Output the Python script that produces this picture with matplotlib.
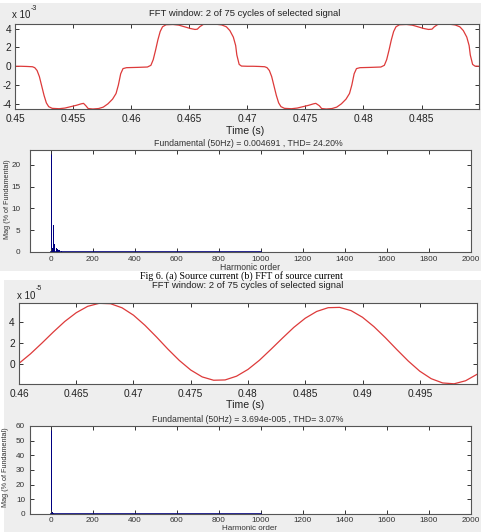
import matplotlib
matplotlib.use("Agg")
import matplotlib.pyplot as plt
from matplotlib.patches import Rectangle

W, H = 487, 532
plt.rcParams["font.family"] = ["Liberation Sans", "DejaVu Sans"]
plt.rcParams["axes.unicode_minus"] = False

# --- (a) corriente de fuente (x 1e-3 A) ---
src_t = [0.4500, 0.4505, 0.4510, 0.4515, 0.4517, 0.4519, 0.4521, 0.4523, 0.4525, 0.4527,
         0.4529, 0.4532, 0.4538, 0.4543, 0.4548, 0.4553, 0.4557, 0.4559, 0.4561, 0.4563,
         0.4567, 0.4572, 0.4576, 0.4580, 0.4584, 0.4587, 0.4589, 0.4591, 0.4593, 0.4596,
         0.4605, 0.4614, 0.4617, 0.4619, 0.4621, 0.4623, 0.4625, 0.4627, 0.4630, 0.4636,
         0.4641, 0.4646, 0.4651, 0.4655, 0.4657, 0.4659, 0.4662, 0.4667, 0.4673, 0.4678,
         0.4682, 0.4685, 0.4688, 0.4690, 0.4691, 0.4693, 0.4695, 0.4700,
         0.4705, 0.4710, 0.4715, 0.4717, 0.4719, 0.4721, 0.4723, 0.4725, 0.4727,
         0.4729, 0.4732, 0.4738, 0.4743, 0.4748, 0.4753, 0.4757, 0.4759, 0.4762, 0.4764,
         0.4768, 0.4773, 0.4777, 0.4781, 0.4785, 0.4788, 0.4790, 0.4792, 0.4794, 0.4797,
         0.4806, 0.4815, 0.4818, 0.4820, 0.4822, 0.4824, 0.4826, 0.4828, 0.4831, 0.4837,
         0.4842, 0.4847, 0.4852, 0.4856, 0.4859, 0.4861, 0.4864, 0.4868, 0.4874, 0.4879,
         0.4883, 0.4886, 0.4889, 0.4891, 0.4892, 0.4894, 0.4896, 0.4900]
src_i = [0.00, 0.00, -0.02, -0.05, -0.15, -0.45, -1.1, -2.1, -3.1, -3.9,
         -4.3, -4.48, -4.52, -4.45, -4.3, -4.15, -4.0, -3.95, -4.2, -4.5,
         -4.55, -4.5, -4.35, -4.0, -3.5, -2.9, -2.0, -0.8, -0.25, -0.15,
         -0.12, -0.08, 0.1, 0.7, 1.7, 2.8, 3.7, 4.2, 4.42, 4.45,
         4.38, 4.2, 4.02, 3.92, 3.95, 4.2, 4.45, 4.5, 4.48, 4.4,
         4.2, 3.8, 3.1, 2.2, 1.2, 0.2, 0.02, 0.0,
         0.0, -0.02, -0.05, -0.15, -0.45, -1.1, -2.1, -3.1, -3.9,
         -4.3, -4.48, -4.52, -4.45, -4.3, -4.15, -4.0, -3.95, -4.2, -4.5,
         -4.55, -4.5, -4.35, -4.0, -3.5, -2.9, -2.0, -0.8, -0.25, -0.15,
         -0.12, -0.08, 0.1, 0.7, 1.7, 2.8, 3.7, 4.2, 4.42, 4.45,
         4.38, 4.2, 4.02, 3.92, 3.95, 4.2, 4.45, 4.5, 4.48, 4.4,
         4.2, 3.8, 3.1, 2.2, 1.2, 0.2, 0.02, 0.0]

# --- (b) espectro de la corriente de fuente ---
src_orders = [1, 5, 7, 11, 13, 17, 19, 23, 25, 29, 31, 35, 37, 41, 43, 47, 49]
src_mag = [100, 21.5, 1.0, 6.2, 3.2, 1.8, 1.5, 1.2, 1.0, 0.8, 0.7, 0.5, 0.45, 0.35, 0.3, 0.25, 0.2]
src_max_order = 1000

# --- corriente compensada (x 1e-5 A) ---
comp_t = [0.460, 0.461, 0.462, 0.463, 0.464, 0.465, 0.466, 0.467, 0.468, 0.469,
          0.470, 0.471, 0.472, 0.473, 0.474, 0.475, 0.476, 0.477, 0.478, 0.479,
          0.480, 0.481, 0.482, 0.483, 0.484, 0.485, 0.486, 0.487, 0.488, 0.489,
          0.490, 0.491, 0.492, 0.493, 0.494, 0.495, 0.496, 0.497, 0.498, 0.499, 0.500]
comp_i = [0.05, 0.96, 1.99, 3.06, 4.07, 4.91, 5.52, 5.81, 5.77, 5.38,
          4.67, 3.70, 2.59, 1.42, 0.33, -0.59, -1.25, -1.57, -1.54, -1.18,
          -0.53, 0.35, 1.39, 2.46, 3.50, 4.38, 5.03, 5.39, 5.42, 5.11,
          4.47, 3.57, 2.51, 1.37, 0.27, -0.70, -1.42, -1.83, -1.91, -1.62, -1.00]

comp_orders = [1, 5, 7, 11, 13]
comp_mag = [100, 2.0, 1.5, 1.0, 0.8]
comp_max_order = 1000

RED = "#dd3a3a"
NAVY = "#000080"
GRAY = "#eeeeee"

fig = plt.figure(figsize=(W / 100, H / 100), dpi=100)
fig.patch.set_facecolor("white")


def px_axes(x0, y0, x1, y1):
    return fig.add_axes([x0 / W, 1 - y1 / H, (x1 - x0) / W, (y1 - y0) / H])


def ftext(x, y, s, **kw):
    kw.setdefault("ha", "center")
    kw.setdefault("va", "center")
    fig.text(x / W, 1 - y / H, s, **kw)


def band(x0, y0, x1, y1, color, z):
    fig.add_artist(Rectangle((x0 / W, 1 - y1 / H), (x1 - x0) / W, (y1 - y0) / H,
                             transform=fig.transFigure, facecolor=color,
                             edgecolor="none", zorder=z))


def style(ax, size, pad_x, pad_y, color="#222222"):
    for s in ax.spines.values():
        s.set_color("#555555"); s.set_linewidth(0.8)
    ax.tick_params(direction="in", length=3, width=0.7, top=True, right=True,
                   labelsize=size, labelcolor=color, color="#333333")
    ax.tick_params(axis="x", pad=pad_x)
    ax.tick_params(axis="y", pad=pad_y)


band(0, 3, 481, 271, GRAY, -1)
band(4, 280, 481, 532, GRAY, -1)

# panel 1: corriente de fuente
ax1 = px_axes(15, 24, 479, 109)
ax1.plot(src_t, src_i, color=RED, lw=0.9)
ax1.set_xlim(0.45, 0.48995)
ax1.set_ylim(-4.55, 4.5)
ax1.set_xticks([0.45, 0.455, 0.46, 0.465, 0.47, 0.475, 0.48, 0.485],
               ["0.45", "0.455", "0.46", "0.465", "0.47", "0.475", "0.48", "0.485"])
ax1.set_yticks([-4, -2, 0, 2, 4])
style(ax1, 7.3, 3.5, 2.5)
ftext(245, 13, "FFT window: 2 of 75 cycles of selected signal", fontsize=6.8, color="#222222")
ftext(12, 15, "x 10", fontsize=7, ha="left", color="#222222")
ftext(31, 8, "-3", fontsize=5, ha="left", color="#222222")
ftext(245, 131, "Time (s)", fontsize=7.6, color="#222222")

# panel 2: FFT corriente de fuente
ax2 = px_axes(30, 150, 471, 252)
ax2.bar(src_orders, src_mag, width=3, color=NAVY, linewidth=0)
ax2.plot([0, src_max_order], [0, 0], color=NAVY, lw=1.2)
ax2.set_xlim(-100, 2000)
ax2.set_ylim(0, 23.4)
ax2.set_xticks(range(0, 2001, 200))
ax2.set_yticks([0, 5, 10, 15, 20])
style(ax2, 5.9, 3, 7, color="#333333")
ftext(248, 143, "Fundamental (50Hz) = 0.004691 , THD= 24.20%", fontsize=6.3, color="#333333")
ftext(7.5, 199, "Mag (% of Fundamental)", fontsize=5.2, rotation=90, color="#333333")
ftext(250, 268, "Harmonic order", fontsize=6.2, color="#333333")

# pie de figura
band(0, 271, 487, 280, "white", 5)
ftext(241, 276, "Fig 6. (a) Source current (b) FFT of source current", fontsize=7.2,
      family="Liberation Serif", color="black", zorder=6)

# panel 3: corriente compensada
ax3 = px_axes(19, 303, 477, 384)
ax3.plot(comp_t, comp_i, color=RED, lw=0.9)
ax3.set_xlim(0.46, 0.5)
ax3.set_ylim(-1.93, 5.84)
ax3.set_xticks([0.46, 0.465, 0.47, 0.475, 0.48, 0.485, 0.49, 0.495],
               ["0.46", "0.465", "0.47", "0.475", "0.48", "0.485", "0.49", "0.495"])
ax3.set_yticks([0, 2, 4])
style(ax3, 7.3, 3.5, 3)
ftext(248, 285, "FFT window: 2 of 75 cycles of selected signal", fontsize=6.8,
      color="#222222", zorder=7)
ftext(17, 296, "x 10", fontsize=7, ha="left", color="#222222")
ftext(36, 289, "-5", fontsize=5, ha="left", color="#222222")
ftext(245, 405, "Time (s)", fontsize=7.6, color="#222222")

# panel 4: FFT corriente compensada
ax4 = px_axes(30, 426, 471, 514)
ax4.bar(comp_orders, comp_mag, width=3, color=NAVY, linewidth=0)
ax4.plot([0, comp_max_order], [0, 0], color=NAVY, lw=1.2)
ax4.set_xlim(-100, 2000)
ax4.set_ylim(0, 60)
ax4.set_xticks(range(0, 2001, 200))
ax4.set_yticks(range(0, 61, 10))
style(ax4, 5.9, 2.5, 3.5, color="#333333")
ftext(248, 419, "Fundamental (50Hz) = 3.694e-005 , THD= 3.07%", fontsize=6.3, color="#333333")
ftext(6, 467, "Mag (% of Fundamental)", fontsize=5.2, rotation=90, color="#333333")
ftext(250, 528, "Harmonic order", fontsize=5.8, color="#333333")

fig.savefig("out.png", dpi=100, facecolor="white")
